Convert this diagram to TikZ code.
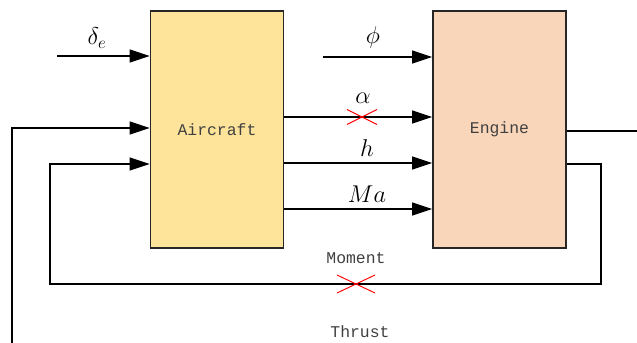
\documentclass[tikz,border=0pt]{standalone}
\usepackage{fontspec}
\setmonofont{Liberation Mono}
\usepackage{tikz}
\usetikzlibrary{positioning,arrows.meta,calc}
\definecolor{acfill}{HTML}{FDE49A}
\definecolor{engfill}{HTML}{F9D6BA}

\begin{document}
\begin{tikzpicture}[x=0.03cm,y=-0.03cm,line width=1.1pt,
  sig/.style={-{Triangle[length=17pt,width=11pt]}},
  blk/.style={draw=black!85,line width=1.2pt,minimum width=4.0cm,minimum height=7.11cm,inner sep=0pt,font=\ttfamily\fontsize{14}{16}\selectfont,text=black!75},
  tag/.style={font=\ttfamily\fontsize{14}{16}\selectfont,text=black!75},
  sym/.style={font=\huge},
  cut/.style={red,line width=0.8pt}]
\useasboundingbox (0,0) rectangle (637,343);
\clip (0,0) rectangle (637,343);
\node[blk,fill=acfill] (ac) at (217,129.5) {Aircraft};
\node[blk,fill=engfill] (eng) at (499.5,129.5) {Engine};
\coordinate (de) at (57,56);
\coordinate (ph) at (323,57);
\draw[sig] (de) -- (ac.west |- de);
\draw[sig] (ph) -- (eng.west |- ph);
\node[sym] (delta) at (97,38) {$\delta_e$};
\node[sym] (phi) at (373,37) {$\phi$};
\draw[sig] (ac.east |- 0,117) -- (eng.west |- 0,117);
\draw[sig] (ac.east |- 0,163) -- (eng.west |- 0,163);
\draw[sig] (ac.east |- 0,209) -- (eng.west |- 0,209);
\node[sym] (alpha) at (363,98) {$\alpha$};
\node[sym] (hh) at (367,148) {$h$};
\node[sym] (ma) at (367,194) {$Ma$};
\draw[cut] (347,109.5) -- (377,124.5) (347,124.5) -- (377,109.5);
\coordinate (m1) at (601,164);
\coordinate (m2) at (601,284);
\coordinate (m3) at (50,284);
\coordinate (m4) at (50,164);
\draw[sig] (eng.east |- m1) -- (m1) -- (m2) -- (m3) -- (m4) -- (ac.west |- m4);
\node[tag] (moment) at (356,258) {Moment};
\draw[cut] (337,275) -- (375,293) (337,293) -- (375,275);
\coordinate (t1) at (660,131);
\coordinate (t2) at (660,380);
\coordinate (t3) at (12,380);
\coordinate (t4) at (12,128);
\draw[sig] (eng.east |- t1) -- (t1) -- (t2) -- (t3) -- (t4) -- (ac.west |- t4);
\node[tag] (thrust) at (360,332) {Thrust};
\end{tikzpicture}
\end{document}
